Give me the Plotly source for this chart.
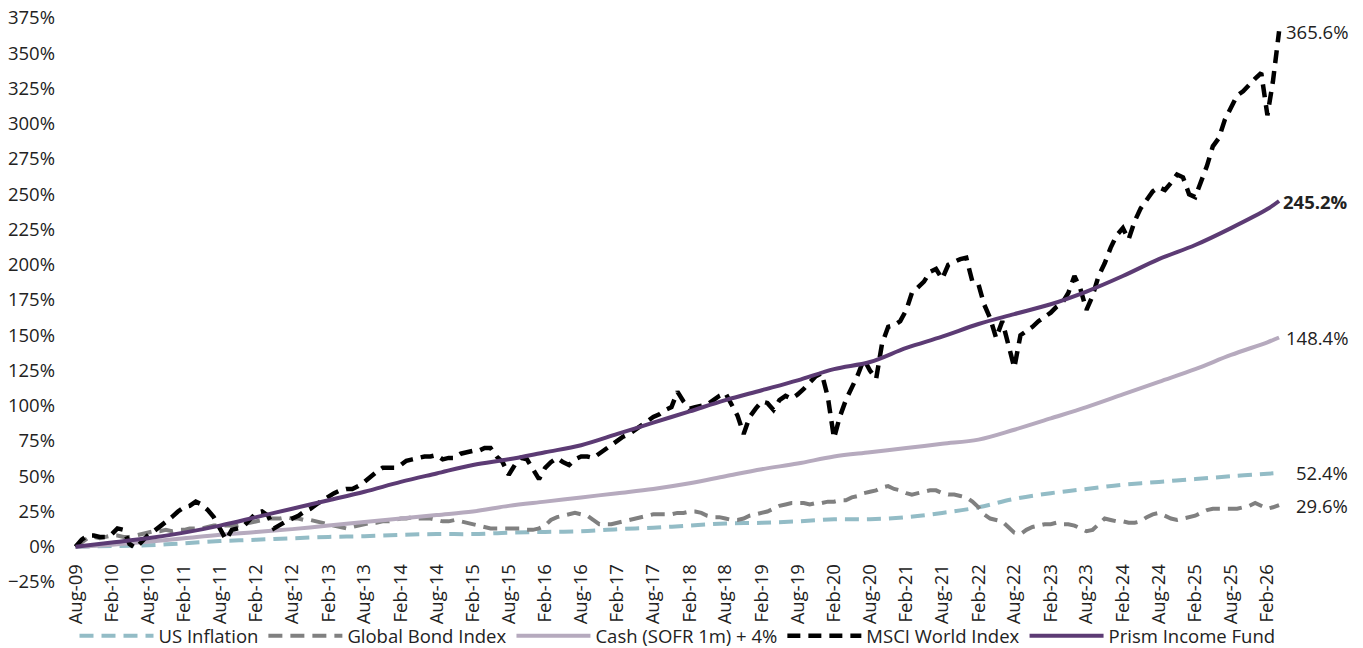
import pandas as pd
import plotly.graph_objects as go

# ---- data ----
months = pd.date_range("2009-08-01", periods=201, freq="MS")          # Aug-09 .. Apr-26
half_years = list(pd.date_range("2009-08-01", "2026-02-01", freq="6MS")) + [pd.Timestamp("2026-04-01")]

msci_world = [
    0, 5, 8, 8, 7, 7, 9, 13, 12, 2,
    -1, 4, 8, 11, 14, 18, 21, 25, 28, 29,
    32, 30, 26, 21, 13, 5, 12, 13, 15, 19,
    24, 25, 22, 13, 16, 18, 20, 22, 25, 27,
    30, 33, 36, 38, 40, 41, 41, 43, 46, 50,
    53, 56, 56, 56, 58, 61, 62, 63, 64, 64,
    65, 62, 63, 63, 66, 67, 68, 68, 70, 70,
    64, 60, 51, 58, 63, 62, 55, 48, 56, 60,
    63, 60, 58, 62, 64, 64, 63, 66, 69, 72,
    75, 78, 80, 83, 86, 89, 92, 94, 97, 99,
    110, 103, 98, 99, 100, 101, 104, 107, 109, 101,
    93, 80, 92, 98, 103, 102, 97, 104, 107, 105,
    108, 112, 116, 121, 123, 106, 77, 92, 104, 113,
    122, 133, 125, 119, 144, 156, 157, 160, 168, 180,
    184, 188, 195, 197, 190, 200, 202, 204, 205, 188,
    186, 172, 162, 148, 160, 145, 127, 150, 153, 156,
    160, 163, 166, 170, 173, 180, 192, 183, 168, 178,
    192, 201, 212, 221, 226, 218, 231, 240, 246, 252,
    255, 253, 258, 264, 262, 250, 248, 258, 270, 284,
    290, 303, 312, 320, 323, 328, 332, 336, 306, 330,
    365.6,
]

global_bond = [
    0, 3, 6, 7, 6, 7, 8, 8, 7, 7,
    8, 9, 10, 11, 11, 12, 11, 12, 12, 13,
    13, 13, 14, 15, 15, 15, 15, 15, 16, 17,
    18, 19, 20, 20, 20, 21, 20, 20, 19, 19,
    18, 17, 16, 15, 14, 13, 14, 15, 16, 17,
    17, 18, 18, 19, 20, 20, 21, 20, 20, 20,
    19, 18, 18, 19, 18, 17, 16, 15, 14, 13,
    13, 13, 13, 13, 13, 12, 12, 13, 15, 19,
    21, 22, 23, 24, 23, 22, 19, 16, 16, 16,
    17, 18, 19, 20, 21, 22, 23, 23, 23, 23,
    24, 24, 25, 25, 24, 22, 21, 21, 20, 19,
    19, 20, 22, 23, 24, 25, 27, 29, 30, 31,
    31, 31, 30, 31, 31, 32, 32, 33, 33, 35,
    36, 38, 39, 40, 42, 43, 41, 40, 38, 37,
    38, 39, 40, 40, 38, 37, 37, 36, 35, 32,
    28, 23, 20, 19, 18, 14, 10, 9, 12, 14,
    15, 16, 16, 17, 16, 16, 15, 13, 11, 12,
    16, 20, 19, 18, 18, 17, 17, 18, 21, 23,
    24, 22, 20, 19, 20, 21, 22, 24, 26, 27,
    27, 27, 27, 27, 28, 29, 31, 29, 27, 28,
    29.6,
]

prism_income = [0, 3, 6, 10, 15, 21, 27, 33, 39, 46, 52, 58, 62, 67, 72, 80, 88, 96, 104, 111,
                118, 126, 131, 141, 149, 158, 165, 172, 181, 192, 204, 214, 226, 239.5, 245.2]
cash_sofr = [0, 1.5, 3.5, 6, 8.5, 10.5, 12.5, 15, 17.5, 20, 22.5, 25, 29, 32, 35, 38, 41, 45, 50, 55,
             59, 64, 67, 70, 73, 76, 83, 91, 99, 108, 117, 126, 136, 145, 148.4]
us_inflation = [0, 0.5, 1, 2.5, 4, 5, 6, 7, 7.5, 8.5, 9, 9, 10, 10.5, 11, 12.5, 13.5, 15, 16.5, 17,
                18, 19.5, 19.5, 21, 24, 28, 34, 38, 41, 44, 46, 48, 50, 51.8, 52.4]

FONT = "Open Sans"
TXT = "#222222"
FS = 18.5

series = [
    ("US Inflation", half_years, us_inflation, dict(color="#93bcc6", width=4, dash="14px,8px", shape="spline"), False),
    ("Global Bond Index", months, global_bond, dict(color="#808080", width=4, dash="14px,8px"), False),
    ("Cash (SOFR 1m) + 4%", half_years, cash_sofr, dict(color="#b6aabe", width=4, shape="spline"), False),
    ("MSCI World Index", months, msci_world, dict(color="#000000", width=4.5, dash="13px,8px"), False),
    ("Prism Income Fund", half_years, prism_income, dict(color="#5c3b74", width=4, shape="spline"), True),
]

fig = go.Figure()
annotations = []
for name, xs, ys, line, bold in series:
    fig.add_trace(go.Scatter(x=xs, y=ys, name=name, mode="lines", line=line, hoverinfo="skip"))
    txt = f"{ys[-1]:.1f}%"
    if bold:
        txt = f"<b>{txt}</b>"
    annotations.append(dict(x=xs[-1], y=ys[-1], xref="x", yref="y", text=txt, showarrow=False,
                            xanchor="right", yanchor="middle", xshift=71,
                            font=dict(family=FONT, size=FS, color=TXT)))

fig.update_layout(
    width=1363, height=648,
    margin=dict(l=70, r=78, t=18, b=66, autoexpand=False),
    paper_bgcolor="white", plot_bgcolor="white",
    font=dict(family=FONT, size=FS, color=TXT),
    showlegend=True,
    legend=dict(orientation="h", x=0.5, xanchor="center", y=-0.096, yanchor="middle",
                font=dict(family=FONT, size=FS, color=TXT), itemwidth=74, bgcolor="rgba(0,0,0,0)"),
    annotations=annotations,
)
fig.update_xaxes(type="date", range=["2009-07-04", "2026-05-01"], tick0="2009-08-01", dtick="M6",
                 tickformat="%b-%y", tickangle=-90, showgrid=False, zeroline=False, showline=False,
                 ticks="outside", ticklen=9, tickcolor="rgba(0,0,0,0)",
                 anchor="free", position=25 / 400, automargin=False,
                 tickfont=dict(family=FONT, size=FS, color=TXT))
fig.update_yaxes(range=[-25, 375], tick0=0, dtick=25, ticksuffix="%", showgrid=False, zeroline=False,
                 showline=False, ticks="", automargin=False, ticklabeloverflow="allow",
                 tickfont=dict(family=FONT, size=FS, color=TXT), ticklabelstandoff=14)

fig.write_html("out.html", config={"displayModeBar": False},
               post_script="document.body.style.margin='0px';document.body.style.overflow='hidden';")
